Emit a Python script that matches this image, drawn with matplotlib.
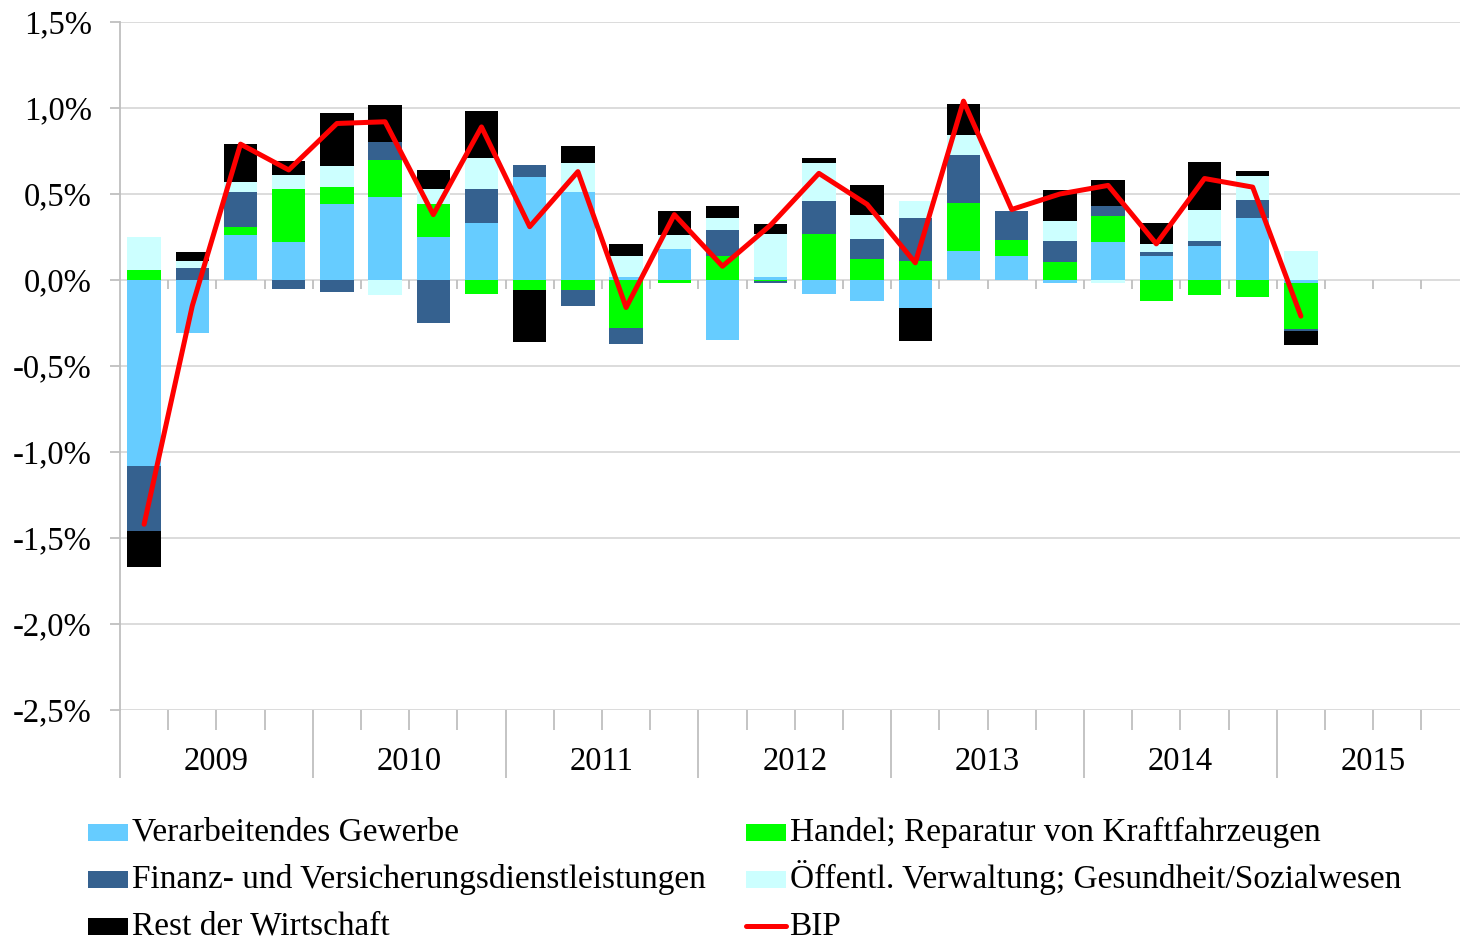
import numpy as np
import matplotlib
matplotlib.use("Agg")
import matplotlib.pyplot as plt
from matplotlib.patches import Rectangle
from matplotlib.lines import Line2D
from matplotlib.transforms import blended_transform_factory

plt.rcParams['font.family'] = ['Liberation Serif', 'DejaVu Serif']

# ---- data (quarterly contributions, 2009Q1 .. 2015Q1, in %) ----
years = ["2009", "2010", "2011", "2012", "2013", "2014", "2015"]
verarbeitendes = [-1.08, -0.31, 0.26, 0.22, 0.44, 0.48, 0.25, 0.33,
                  0.60, 0.51, 0.02, 0.18, -0.35, 0.02, -0.08, -0.12,
                  -0.165, 0.17, 0.14, -0.02, 0.22, 0.14, 0.20, 0.36, -0.02]
handel = [0.06, 0.00, 0.05, 0.31, 0.10, 0.22, 0.19, -0.08,
          -0.06, -0.06, -0.28, -0.015, 0.14, -0.005, 0.27, 0.12,
          0.11, 0.275, 0.09, 0.105, 0.15, -0.12, -0.09, -0.10, -0.265]
finanz = [-0.38, 0.07, 0.20, -0.05, -0.07, 0.10, -0.25, 0.20,
          0.07, -0.09, -0.09, 0.00, 0.15, -0.01, 0.19, 0.12,
          0.25, 0.28, 0.17, 0.12, 0.06, 0.02, 0.025, 0.105, -0.01]
oeffentl = [0.19, 0.04, 0.06, 0.08, 0.12, -0.09, 0.09, 0.18,
            0.00, 0.17, 0.12, 0.08, 0.07, 0.245, 0.22, 0.14,
            0.10, 0.12, 0.00, 0.12, -0.02, 0.05, 0.18, 0.14, 0.17]
rest = [-0.21, 0.05, 0.22, 0.08, 0.31, 0.22, 0.11, 0.27,
        -0.30, 0.10, 0.07, 0.14, 0.07, 0.06, 0.03, 0.17,
        -0.19, 0.18, 0.00, 0.18, 0.15, 0.12, 0.28, 0.03, -0.08]
bip = [-1.42, -0.15, 0.79, 0.64, 0.91, 0.92, 0.38, 0.89,
       0.31, 0.63, -0.16, 0.38, 0.08, 0.32, 0.62, 0.44,
       0.10, 1.04, 0.41, 0.50, 0.55, 0.21, 0.59, 0.54, -0.21]

series = [
    ("Verarbeitendes Gewerbe", verarbeitendes, "#66CCFF"),
    ("Handel; Reparatur von Kraftfahrzeugen", handel, "#00FF00"),
    ("Finanz- und Versicherungsdienstleistungen", finanz, "#35618F"),
    ("Öffentl. Verwaltung; Gesundheit/Sozialwesen", oeffentl, "#CCFFFF"),
    ("Rest der Wirtschaft", rest, "#000000"),
]
bip_label = "BIP"
bip_color = "#FF0000"

n_q = len(bip)
n_slots = 4 * len(years)
x = np.arange(n_q) + 0.5

W, H = 1460, 943
fig = plt.figure(figsize=(W / 100, H / 100), dpi=100)
ax = fig.add_axes([120 / W, 233 / H, 1349.6 / W, 688 / H])

grid_c = "#D9D9D9"
axis_c = "#BFBFBF"

pos_bottom = np.zeros(n_q)
neg_bottom = np.zeros(n_q)
for name, vals, col in series:
    v = np.array(vals, dtype=float)
    bottom = np.where(v >= 0, pos_bottom, neg_bottom)
    ax.bar(x, v, width=0.69, bottom=bottom, color=col, edgecolor='none', zorder=2)
    pos_bottom = pos_bottom + np.where(v >= 0, v, 0)
    neg_bottom = neg_bottom + np.where(v < 0, v, 0)

ax.plot(x, bip, color=bip_color, lw=3.6, zorder=4,
        solid_capstyle='round', solid_joinstyle='round')

# axes
ax.set_xlim(0, n_slots)
ax.set_ylim(-2.5, 1.5)
yt = np.arange(-2.5, 1.51, 0.5)
ax.set_yticks(yt)
ax.set_yticklabels([f"{v:.1f}%".replace('.', ',') for v in yt], fontsize=23.5)
ax.yaxis.grid(True, color=grid_c, lw=1.3, zorder=0)
ax.set_axisbelow(True)
for s in ['top', 'right', 'bottom']:
    ax.spines[s].set_visible(False)
ax.spines['left'].set_color(axis_c)
ax.spines['left'].set_linewidth(1.3)
ax.tick_params(axis='y', length=7.2, width=1.3, color=axis_c, pad=13, labelcolor='black')

bounds = np.arange(0, n_slots + 1)
ax.set_xticks(np.arange(0, n_slots + 1, 4))
ax.set_xticks(bounds, minor=True)
ax.set_xticklabels([])
ax.tick_params(axis='x', which='major', length=49, width=1.3, color=axis_c)
ax.tick_params(axis='x', which='minor', length=14.4, width=1.3, color=axis_c)

# small ticks below the zero line
ax.vlines(bounds[1:], -0.052, 0, color=axis_c, lw=1.3, zorder=1)

trans = blended_transform_factory(ax.transData, ax.transAxes)
for i, yr in enumerate(years):
    ax.text(4 * i + 2, -0.0756, yr, transform=trans, ha='center', va='center', fontsize=23.5)

# ---- legend (row-wise, two columns, aligned rows) ----
entries = [(name, col, 'patch') for name, _, col in series] + [(bip_label, bip_color, 'line')]
col_x = [88, 746]          # left edge of key (px)
row_center = [832.0, 879.0, 926.0]  # key centre (px from top)
for k, (name, col, kind) in enumerate(entries):
    r, c = divmod(k, 2)
    x0 = col_x[c]
    yc = row_center[r]
    if kind == 'patch':
        fig.add_artist(Rectangle((x0 / W, 1 - (yc + 8.5) / H), 40 / W, 17 / H,
                                 transform=fig.transFigure, facecolor=col, edgecolor='none'))
    else:
        fig.add_artist(Line2D([x0 / W, (x0 + 40) / W], [1 - yc / H] * 2, transform=fig.transFigure,
                              color=col, lw=3.6, solid_capstyle='round'))
    fig.text((x0 + 43.5) / W, 1 - (yc + 8.8) / H, name, ha='left', va='baseline', fontsize=24)

fig.savefig("out.png", dpi=100)
